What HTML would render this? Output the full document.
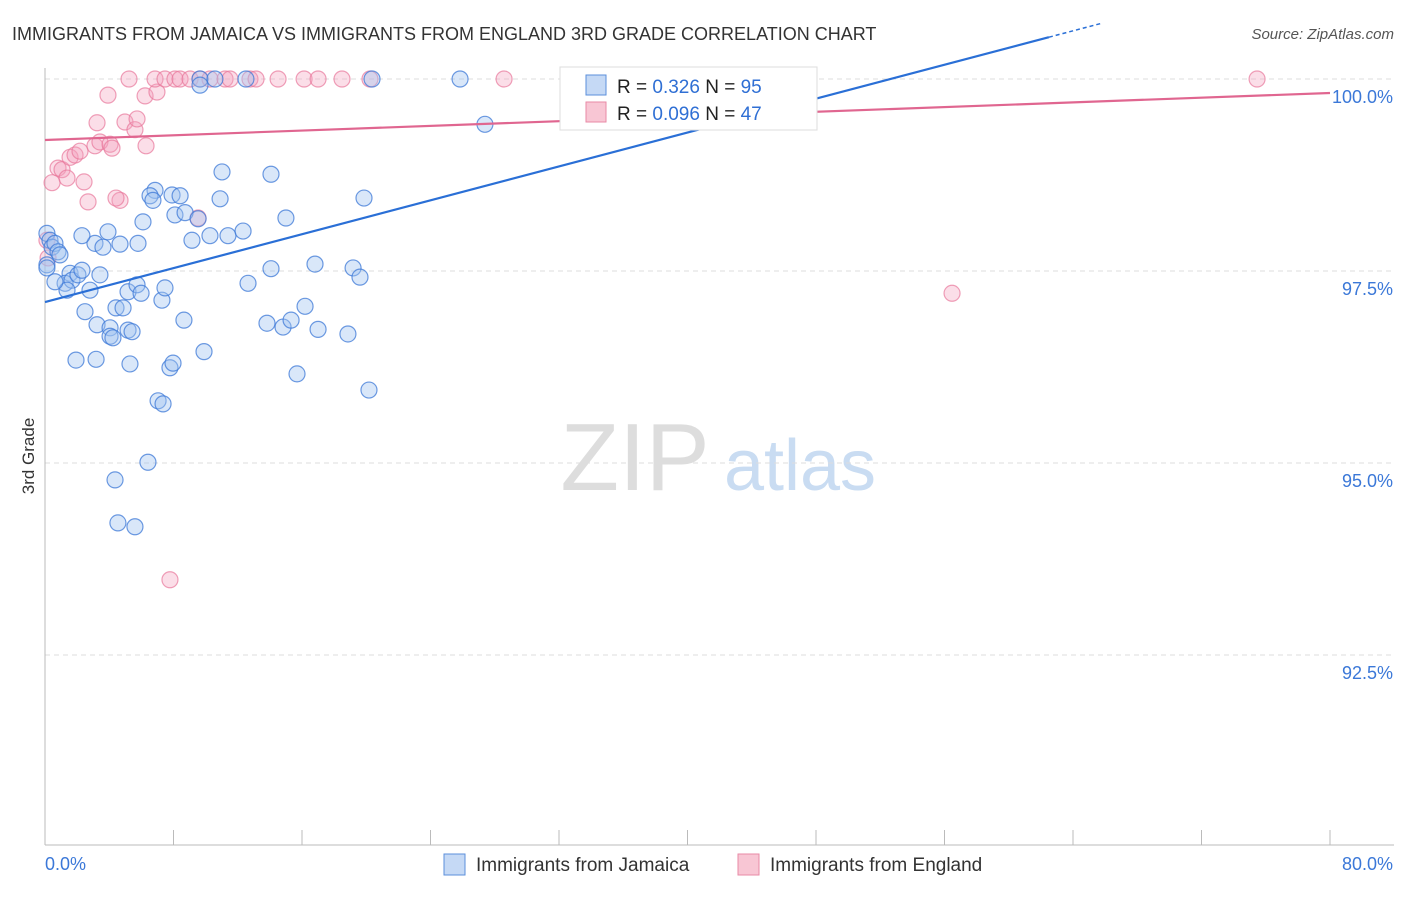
<!DOCTYPE html>
<html><head><meta charset="utf-8"><style>
body{margin:0;background:#fff;font-family:"Liberation Sans",sans-serif;}
svg text{font-family:"Liberation Sans",sans-serif;}
</style></head><body>
<svg id="chart" width="1406" height="892">
<text x="12" y="40" font-size="18" fill="#333">IMMIGRANTS FROM JAMAICA VS IMMIGRANTS FROM ENGLAND 3RD GRADE CORRELATION CHART</text>
<text x="1394" y="39" font-size="15" fill="#555" font-style="italic" text-anchor="end">Source: ZipAtlas.com</text>
<text x="34" y="456" font-size="17" fill="#333" transform="rotate(-90 34 456)" text-anchor="middle">3rd Grade</text>
<g><text x="635" y="490" font-size="96" fill="#ddd" font-family="Liberation Serif" text-anchor="middle">ZIP</text><text x="800" y="490" font-size="72" fill="#c9dcf2" text-anchor="middle">atlas</text></g>
<g id="grid"></g><g id="axes"></g><g id="pts"></g><g id="lines"></g>
<g>
<rect x="560" y="67" width="257" height="63" fill="#fff" stroke="#ddd"/>
<rect x="586" y="75" width="20" height="20" fill="#c5d9f5" stroke="#5b8fdb"/>
<rect x="586" y="102" width="20" height="20" fill="#f8c6d4" stroke="#e88aa6"/>
<text x="617" y="93" font-size="19" fill="#222">R = <tspan fill="#2f6fd4">0.326</tspan>   N = <tspan fill="#2f6fd4">95</tspan></text>
<text x="617" y="120" font-size="19" fill="#222">R = <tspan fill="#2f6fd4">0.096</tspan>   N = <tspan fill="#2f6fd4">47</tspan></text>
</g>
<g>
<rect x="444" y="854" width="21" height="21" fill="#c5d9f5" stroke="#5b8fdb"/>
<text x="476" y="871" font-size="19" fill="#333">Immigrants from Jamaica</text>
<rect x="738" y="854" width="21" height="21" fill="#f8c6d4" stroke="#e88aa6"/>
<text x="770" y="871" font-size="19" fill="#333">Immigrants from England</text>
</g>
</svg>
<script>
const yTicks=[100,97.5,95,92.5];
const yTickLabels=["100.0%","97.5%","95.0%","92.5%"];
const blueX=[0.12,0.31,0.44,0.62,0.81,0.12,1.56,1.25,1.68,2.05,2.30,2.80,2.49,1.37,3.11,3.61,3.42,2.30,3.92,4.67,5.79,6.10,6.85,6.54,7.91,8.41,6.72,8.09,8.72,9.53,9.15,10.27,11.39,12.33,11.02,10.90,14.07,15.00,19.86,5.17,5.73,5.98,7.28,7.47,4.42,4.86,3.24,4.05,5.17,4.05,5.42,4.23,8.65,1.93,3.18,5.29,7.78,7.97,9.90,13.82,14.82,15.32,16.19,17.00,18.86,15.69,20.17,7.04,7.35,6.41,4.36,4.54,5.60,12.64,14.07,16.81,19.18,19.61,9.65,10.58,12.51,9.65,20.36,25.84,27.39,42.65,0.12,0.93,0.62];
const blueY=[97.99,97.90,97.81,97.86,97.75,97.58,97.47,97.34,97.38,97.45,97.51,97.25,96.97,97.25,97.86,97.81,97.45,97.96,98.01,97.85,97.86,98.14,98.55,98.48,98.49,98.48,98.42,98.23,98.26,98.18,97.90,97.96,97.96,98.02,98.79,98.44,98.76,98.19,98.45,97.23,97.32,97.21,97.12,97.28,97.02,97.02,96.80,96.76,96.73,96.65,96.71,96.63,96.86,96.34,96.35,96.29,96.24,96.30,96.45,96.82,96.77,96.86,97.04,96.74,96.68,96.16,95.95,95.81,95.77,95.01,94.78,94.22,94.17,97.34,97.53,97.59,97.54,97.42,100,100,100,99.92,100,100,99.41,100,97.54,97.71,97.36];
const pinkX=[0.19,0.44,0.81,1.06,1.37,1.56,1.87,2.18,2.43,2.68,3.11,3.42,3.24,4.05,4.17,4.67,4.42,4.98,5.60,5.73,6.29,3.92,6.23,6.97,5.23,6.85,7.47,8.09,8.41,9.03,9.65,10.27,11.21,11.52,12.76,13.14,14.51,16.13,17.00,18.49,20.23,28.58,33.00,9.53,7.78,56.47,75.46,0.12];
const pinkY=[97.67,98.65,98.84,98.82,98.71,98.98,99.01,99.06,98.66,98.40,99.13,99.18,99.43,99.15,99.10,98.42,98.45,99.44,99.34,99.48,99.13,99.79,99.78,99.83,100,100,100,100,100,100,100,100,100,100,100,100,100,100,100,100,100,100,100,98.19,93.48,97.21,100,97.90];
const blueTrend=[97.096,101.51];
const pinkTrend=[99.206,99.818];
const NS="http://www.w3.org/2000/svg";
const X=v=>45+v/80*1285, Y=v=>79+(100-v)/2.5*192;
function mk(p,t,a){const e=document.createElementNS(NS,t);for(const k in a)e.setAttribute(k,a[k]);document.getElementById(p).appendChild(e);return e;}
yTicks.forEach((t,i)=>{
 const g=mk('grid','line',{x1:45,x2:1394,y1:Y(t),y2:Y(t),stroke:'#ddd','stroke-dasharray':'5,4'});
 
 
 const l=mk('grid','text',{x:1393,y:Y(t)+24,'font-size':18,fill:'#3b78d8','text-anchor':'end'});l.textContent=yTickLabels[i];
 
 
});
const ax=mk('axes','line',{x1:45,x2:45,y1:68,y2:845,stroke:'#bbb'});


const bx=mk('axes','line',{x1:45,x2:1394,y1:845,y2:845,stroke:'#bbb'});


for(let i=0;i<=10;i++){const t=mk('axes','line',{x1:X(i*8),x2:X(i*8),y1:830,y2:845,stroke:'#bbb'});
 
 }
const xl0=mk('axes','text',{x:45,y:870,'font-size':18,fill:'#3b78d8'});xl0.textContent='0.0%';


const xl1=mk('axes','text',{x:1393,y:870,'font-size':18,fill:'#3b78d8','text-anchor':'end'});xl1.textContent='80.0%';


pinkX.forEach((v,i)=>{const c=mk('pts','circle',{cx:X(v),cy:Y(pinkY[i]),r:8,fill:'rgba(244,160,188,0.35)',stroke:'rgba(232,120,155,0.7)','stroke-width':1.2});
 
 });
blueX.forEach((v,i)=>{const c=mk('pts','circle',{cx:X(v),cy:Y(blueY[i]),r:8,fill:'rgba(160,196,240,0.4)',stroke:'rgba(60,120,215,0.75)','stroke-width':1.2});
 
 });
const bxEnd=62.5, bAt=v=>blueTrend[0]+(blueTrend[1]-blueTrend[0])*v/80;
const b1=mk('lines','line',{x1:X(0),y1:Y(bAt(0)),x2:X(bxEnd),y2:Y(bAt(bxEnd)),stroke:'#2a6fd6','stroke-width':2.2});


const b2=mk('lines','line',{x1:X(bxEnd),y1:Y(bAt(bxEnd)),x2:X(65.8),y2:Y(bAt(65.8)),stroke:'#2a6fd6','stroke-width':1.5,'stroke-dasharray':'4,3'});


const p1=mk('lines','line',{x1:X(0),y1:Y(pinkTrend[0]),x2:X(80),y2:Y(pinkTrend[1]),stroke:'#e06690','stroke-width':2.2});


</script>
</body></html>
